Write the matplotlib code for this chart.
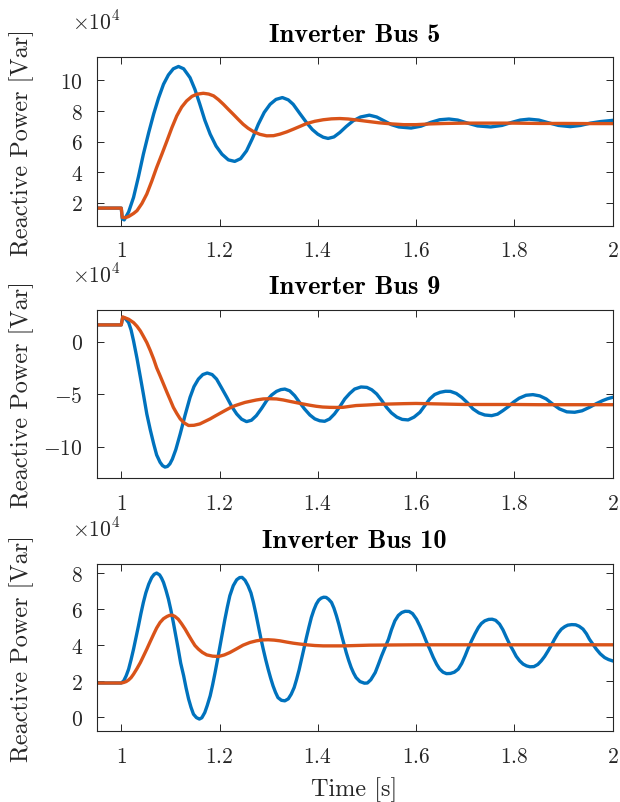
import matplotlib
matplotlib.use('Agg')
import matplotlib.pyplot as plt

plt.rcParams['font.family'] = ['cmr10', 'DejaVu Serif']
plt.rcParams['mathtext.fontset'] = 'cm'
plt.rcParams['axes.unicode_minus'] = False

# values, reactive power in units of 1e4 Var
titles = ['Inverter Bus 5', 'Inverter Bus 9', 'Inverter Bus 10']
x_ticks = [1, 1.2, 1.4, 1.6, 1.8, 2]
x_ticklabels = ['1', '1.2', '1.4', '1.6', '1.8', '2']
y_ticks = [[2, 4, 6, 8, 10], [-10, -5, 0], [0, 2, 4, 6, 8]]
y_ticklabels = [['2', '4', '6', '8', '10'], ['-10', '-5', '0'], ['0', '2', '4', '6', '8']]
y_limits = [(0.5, 11.5), (-13, 3), (-0.78, 8.52)]

# bus 5
t5_blue = [0.95, 1.0, 1.002, 1.006, 1.015, 1.025, 1.035, 1.045, 1.056, 1.066, 1.076, 1.086, 1.096,
           1.106, 1.1165, 1.127, 1.14, 1.15, 1.16, 1.17, 1.181, 1.193, 1.205, 1.218, 1.231, 1.243,
           1.255, 1.267, 1.279, 1.291, 1.303, 1.315, 1.328, 1.34, 1.35, 1.363, 1.377, 1.389, 1.40,
           1.411, 1.421, 1.433, 1.445, 1.458, 1.472, 1.487, 1.505, 1.52, 1.535, 1.55, 1.565, 1.59,
           1.61, 1.63, 1.648, 1.667, 1.685, 1.705, 1.725, 1.752, 1.775, 1.795, 1.812, 1.83, 1.85,
           1.87, 1.89, 1.914, 1.935, 1.955, 1.975, 2.0]
q5_blue = [1.65, 1.65, 0.95, 0.88, 1.4, 2.35, 3.7, 5.17, 6.6, 7.8, 8.85, 9.74, 10.35,
           10.75, 10.9, 10.75, 10.17, 9.4, 8.43, 7.4, 6.48, 5.7, 5.17, 4.8, 4.7, 4.88,
           5.39, 6.2, 7.13, 7.9, 8.43, 8.75, 8.87, 8.72, 8.43, 7.85, 7.24, 6.78, 6.48,
           6.28, 6.2, 6.3, 6.59, 6.98, 7.35, 7.6, 7.72, 7.6, 7.35, 7.1, 6.95, 6.88,
           7.0, 7.25, 7.42, 7.47, 7.4, 7.2, 7.02, 6.95, 7.05, 7.25, 7.4, 7.46, 7.4,
           7.22, 7.05, 6.97, 7.05, 7.2, 7.3, 7.38]
t5_orange = [0.95, 1.0, 1.002, 1.008, 1.015, 1.025, 1.032, 1.042, 1.052, 1.062, 1.072, 1.083, 1.093,
             1.103, 1.113, 1.123, 1.133, 1.144, 1.154, 1.167, 1.178, 1.188, 1.198, 1.208, 1.218,
             1.228, 1.238, 1.248, 1.258, 1.269, 1.282, 1.296, 1.31, 1.323, 1.337, 1.35, 1.364,
             1.377, 1.394, 1.411, 1.428, 1.445, 1.462, 1.478, 1.5, 1.525, 1.55, 1.575, 1.6, 1.63,
             1.66, 1.7, 1.75, 1.8, 1.85, 1.9, 1.95, 2.0]
q5_orange = [1.65, 1.65, 1.05, 1.02, 1.1, 1.3, 1.48, 1.95, 2.57, 3.4, 4.3, 5.2, 6.04,
             6.9, 7.67, 8.25, 8.65, 8.95, 9.09, 9.15, 9.1, 8.98, 8.73, 8.43, 8.1,
             7.78, 7.45, 7.13, 6.87, 6.65, 6.47, 6.37, 6.38, 6.48, 6.63, 6.8, 6.99,
             7.17, 7.32, 7.42, 7.48, 7.5, 7.47, 7.41, 7.32, 7.22, 7.15, 7.1, 7.1, 7.15,
             7.18, 7.2, 7.2, 7.2, 7.18, 7.18, 7.17, 7.17]

# bus 9
t9_blue = [0.95, 1.0, 1.003, 1.008, 1.015, 1.02, 1.025, 1.032, 1.039, 1.045, 1.052, 1.059, 1.066,
           1.072, 1.079, 1.084, 1.089, 1.094, 1.099, 1.104, 1.111, 1.12, 1.13, 1.14, 1.148, 1.157,
           1.166, 1.175, 1.185, 1.194, 1.204, 1.215, 1.225, 1.235, 1.245, 1.255, 1.265, 1.275,
           1.286, 1.296, 1.306, 1.316, 1.325, 1.333, 1.343, 1.353, 1.363, 1.373, 1.384, 1.394,
           1.404, 1.414, 1.424, 1.434, 1.445, 1.455, 1.465, 1.475, 1.488, 1.5, 1.51, 1.52, 1.53,
           1.54, 1.55, 1.561, 1.572, 1.584, 1.596, 1.608, 1.618, 1.628, 1.638, 1.649, 1.66, 1.67,
           1.682, 1.693, 1.705, 1.716, 1.728, 1.74, 1.754, 1.766, 1.777, 1.788, 1.798, 1.81,
           1.824, 1.838, 1.852, 1.865, 1.878, 1.892, 1.907, 1.923, 1.938, 1.953, 1.967, 1.98,
           1.99, 2.0]
q9_blue = [1.58, 1.58, 2.3, 2.2, 1.8, 1.1, 0.06, -1.6, -3.42, -5.0, -6.9, -8.4, -9.75,
           -10.8, -11.5, -11.82, -11.96, -11.9, -11.65, -11.2, -10.3, -8.8, -7.0, -5.32, -4.3, -3.58,
           -3.15, -3.0, -3.15, -3.58, -4.4, -5.32, -6.2, -6.9, -7.4, -7.63, -7.5, -7.06,
           -6.35, -5.63, -5.1, -4.75, -4.58, -4.53, -4.7, -5.16, -5.8, -6.42, -7.0, -7.37,
           -7.55, -7.6, -7.38, -6.9, -6.2, -5.47, -4.95, -4.53, -4.33, -4.37, -4.6, -5.0, -5.6,
           -6.27, -6.8, -7.2, -7.42, -7.47, -7.2, -6.74, -6.1, -5.47, -5.05, -4.84, -4.74, -4.75,
           -4.95, -5.32, -5.85, -6.42, -6.8, -7.0, -7.06, -6.92, -6.58, -6.2, -5.79, -5.4,
           -5.12, -5.06, -5.18, -5.47, -5.95, -6.42, -6.7, -6.74, -6.6, -6.27, -5.92, -5.63,
           -5.45, -5.32]
t9_orange = [0.95, 1.0, 1.003, 1.008, 1.015, 1.025, 1.032, 1.039, 1.045, 1.052, 1.059, 1.066, 1.072,
             1.079, 1.086, 1.093, 1.1, 1.106, 1.113, 1.12, 1.128, 1.137, 1.148, 1.16, 1.17, 1.181,
             1.191, 1.201, 1.211, 1.221, 1.231, 1.242, 1.252, 1.262, 1.275, 1.289, 1.302, 1.316,
             1.33, 1.343, 1.357, 1.37, 1.384, 1.397, 1.41, 1.424, 1.438, 1.451, 1.465, 1.478, 1.5,
             1.525, 1.55, 1.575, 1.6, 1.65, 1.7, 1.75, 1.8, 1.85, 1.9, 1.95, 2.0]
q9_orange = [1.58, 1.58, 2.34, 2.25, 2.12, 1.8, 1.45, 1.0, 0.5, -0.1, -0.85, -1.68, -2.5,
             -3.26, -4.05, -4.84, -5.6, -6.27, -6.85, -7.37, -7.75, -8.0, -7.98, -7.85, -7.62, -7.37,
             -7.1, -6.84, -6.58, -6.33, -6.12, -5.95, -5.8, -5.7, -5.57, -5.47, -5.45, -5.47,
             -5.57, -5.7, -5.83, -5.95, -6.07, -6.17, -6.24, -6.27, -6.28, -6.27, -6.18, -6.1, -6.05,
             -5.98, -5.95, -5.92, -5.9, -5.95, -6.0, -6.0, -6.0, -6.02, -6.02, -6.02, -6.02]

# bus 10
t10_blue = [0.95, 1.0, 1.005, 1.01, 1.015, 1.02, 1.025, 1.03, 1.035, 1.04, 1.045, 1.05, 1.056, 1.062,
            1.067, 1.072, 1.078, 1.082, 1.086, 1.091, 1.096, 1.101, 1.106, 1.111, 1.116, 1.121,
            1.127, 1.132, 1.137, 1.142, 1.147, 1.153, 1.159, 1.164, 1.17, 1.175, 1.181, 1.186,
            1.191, 1.196, 1.201, 1.206, 1.211, 1.216, 1.221, 1.228, 1.235, 1.241, 1.246, 1.252,
            1.258, 1.264, 1.269, 1.274, 1.279, 1.284, 1.289, 1.294, 1.299, 1.304, 1.309, 1.314,
            1.319, 1.326, 1.333, 1.34, 1.346, 1.352, 1.357, 1.362, 1.367, 1.372, 1.377, 1.382,
            1.387, 1.392, 1.397, 1.402, 1.407, 1.412, 1.417, 1.422, 1.428, 1.433, 1.438, 1.443,
            1.448, 1.453, 1.458, 1.463, 1.468, 1.473, 1.478, 1.486, 1.495, 1.501, 1.508, 1.517,
            1.523, 1.53, 1.537, 1.544, 1.55, 1.557, 1.564, 1.571, 1.578, 1.586, 1.593, 1.601,
            1.608, 1.615, 1.621, 1.628, 1.635, 1.642, 1.648, 1.655, 1.662, 1.67, 1.678, 1.686,
            1.693, 1.7, 1.706, 1.713, 1.72, 1.727, 1.733, 1.74, 1.748, 1.755, 1.762, 1.77, 1.777,
            1.784, 1.791, 1.798, 1.804, 1.811, 1.818, 1.825, 1.832, 1.84, 1.848, 1.855, 1.862,
            1.869, 1.876, 1.882, 1.889, 1.896, 1.903, 1.909, 1.917, 1.925, 1.932, 1.94, 1.947,
            1.953, 1.96, 1.967, 1.975, 1.984, 1.992, 2.0]
q10_blue = [1.9, 1.9, 2.02, 2.3, 2.67, 3.2, 3.78, 4.42, 5.07, 5.75, 6.37, 6.9, 7.39, 7.75,
            7.93, 8.0, 7.9, 7.72, 7.48, 7.05, 6.56, 5.95, 5.26, 4.53, 3.78, 3.0,
            2.3, 1.62, 1.02, 0.55, 0.17, -0.02, -0.1, -0.03, 0.26, 0.65, 1.19, 1.8,
            2.48, 3.2, 3.96, 4.7, 5.44, 6.12, 6.74, 7.3, 7.63, 7.75, 7.76, 7.6,
            7.3, 6.9, 6.37, 5.75, 5.07, 4.4, 3.78, 3.2, 2.67, 2.18, 1.74, 1.38,
            1.09, 0.94, 0.91, 1.02, 1.28, 1.65, 2.11, 2.63, 3.22, 3.83, 4.43, 5.0,
            5.54, 5.95, 6.28, 6.5, 6.61, 6.66, 6.65, 6.55, 6.37, 6.05, 5.63, 5.15,
            4.61, 4.1, 3.59, 3.15, 2.76, 2.45, 2.2, 1.98, 1.89, 1.9, 2.08, 2.48,
            2.9, 3.41, 3.87, 4.33, 4.85, 5.35, 5.65, 5.81, 5.88, 5.87, 5.75, 5.44,
            5.05, 4.61, 4.2, 3.78, 3.33, 2.94, 2.68, 2.5, 2.42, 2.43, 2.5, 2.67,
            2.98, 3.41, 3.82, 4.24, 4.63, 4.98, 5.2, 5.35, 5.43, 5.44, 5.38, 5.17, 4.85,
            4.43, 4.03, 3.69, 3.38, 3.13, 2.95, 2.85, 2.8, 2.81, 2.93, 3.13, 3.38,
            3.69, 4.02, 4.33, 4.65, 4.89, 5.03, 5.11, 5.14, 5.13, 5.05, 4.89, 4.63,
            4.33, 4.05, 3.78, 3.52, 3.31, 3.2, 3.13]
t10_orange = [0.95, 1.0, 1.005, 1.01, 1.015, 1.02, 1.025, 1.032, 1.039, 1.045, 1.052, 1.059, 1.066,
              1.072, 1.079, 1.086, 1.093, 1.098, 1.103, 1.109, 1.116, 1.123, 1.13, 1.137, 1.144,
              1.15, 1.157, 1.165, 1.174, 1.186, 1.198, 1.21, 1.221, 1.235, 1.248, 1.262, 1.275,
              1.287, 1.299, 1.311, 1.323, 1.337, 1.35, 1.364, 1.377, 1.394, 1.411, 1.431, 1.451,
              1.478, 1.505, 1.55, 1.6, 1.7, 1.8, 1.9, 2.0]
q10_orange = [1.9, 1.9, 1.93, 1.98, 2.07, 2.2, 2.39, 2.7, 3.04, 3.38, 3.78, 4.2, 4.61,
              4.95, 5.26, 5.47, 5.59, 5.65, 5.67, 5.6, 5.44, 5.18, 4.89, 4.56, 4.24,
              3.98, 3.78, 3.6, 3.46, 3.39, 3.37, 3.46, 3.59, 3.8, 4.0, 4.15, 4.24,
              4.29, 4.3, 4.28, 4.24, 4.17, 4.11, 4.06, 4.02, 3.98, 3.96, 3.96, 3.96,
              3.98, 4.0, 4.01, 4.02, 4.02, 4.02, 4.02, 4.02]

series = [(t5_blue, q5_blue, t5_orange, q5_orange),
          (t9_blue, q9_blue, t9_orange, q9_orange),
          (t10_blue, q10_blue, t10_orange, q10_orange)]

blue = '#0072BD'
orange = '#D95319'
axcol = '#262626'

W, H = 620, 803
fig = plt.figure(figsize=(W / 100, H / 100), dpi=100)

# axes boxes in pixels: (left, top, right, bottom)
boxes = [(96.7, 58.3, 612.5, 226.7), (96.7, 311, 612.5, 479), (96.7, 564.7, 612.5, 732.3)]

for i, (tb, qb, to, qo) in enumerate(series):
    l, t, r, b = boxes[i]
    w, h = r - l, b - t
    ax = fig.add_axes([l / W, 1 - b / H, w / W, h / H])
    ax.plot(tb, qb, color=blue, lw=2.4, solid_joinstyle='round')
    ax.plot(to, qo, color=orange, lw=2.4, solid_joinstyle='round')
    ax.set_xlim(0.95, 2)
    ax.set_ylim(*y_limits[i])
    ax.set_xticks(x_ticks)
    ax.set_xticklabels(['$%s$' % s for s in x_ticklabels])
    ax.set_yticks(y_ticks[i])
    ax.set_yticklabels(['$%s$' % s for s in y_ticklabels[i]])
    ax.tick_params(direction='in', top=True, right=True, length=5, width=0.7,
                   colors=axcol, labelsize=15.5)
    ax.tick_params(axis='x', pad=11)
    ax.tick_params(axis='y', pad=10)
    for sp in ax.spines.values():
        sp.set_color(axcol)
        sp.set_linewidth(0.8)
    ax.set_title(titles[i], fontfamily='cmb10', fontsize=19, pad=12, color='black')
    ax.set_ylabel('Reactive Power [Var]', fontsize=17.5, color=axcol, va='center')
    ax.yaxis.set_label_coords((21.7 - l) / w, 0.5)
    # MATLAB style exponent label above the y axis
    ax.text((71.7 - l) / w, (b - (t - 28.3)) / h, r'$\times10^4$', transform=ax.transAxes,
            fontsize=15.5, color=axcol, ha='left', va='baseline')
    if i == 2:
        ax.set_xlabel('Time [s]', fontsize=17.5, color=axcol)
        ax.xaxis.set_label_coords(0.5, -(777 - b) / h)
        ax.xaxis.label.set_va('top')

fig.savefig('out.png', dpi=100)
